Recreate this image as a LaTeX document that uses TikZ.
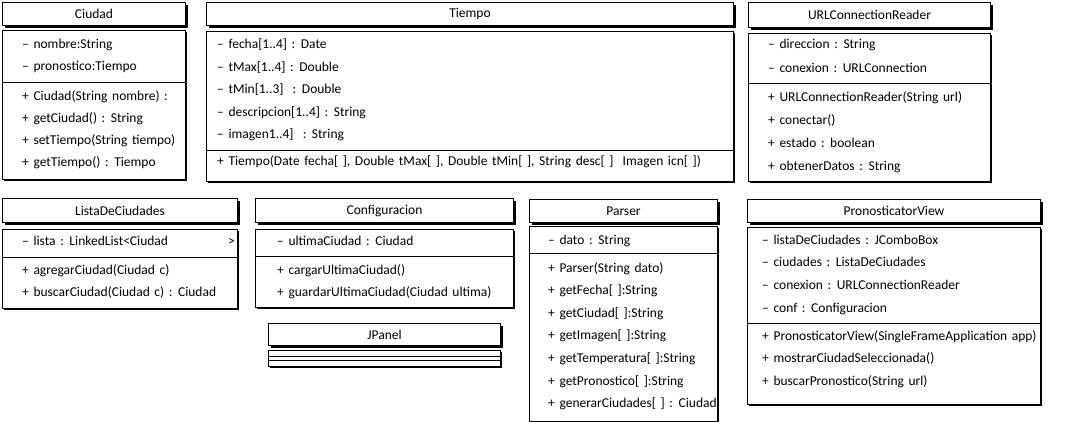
\documentclass[tikz,border=0pt]{standalone}
\usepackage{fontspec}
\setmainfont{Carlito}
\usetikzlibrary{positioning,shadows}

\begin{document}
\begin{tikzpicture}[x=1pt,y=-1pt,
clshead/.style={draw,line width=1pt,fill=white,anchor=north west,inner sep=0pt,
 minimum height=23pt,font=\fontsize{13.5}{16}\selectfont,
 drop shadow={shadow xshift=2.5pt,shadow yshift=-2.5pt,opacity=1,fill=black}},
clsbody/.style={draw,line width=1pt,fill=white,inner sep=0pt,
 drop shadow={shadow xshift=1.5pt,shadow yshift=-1.2pt,opacity=1,fill=black}},
member/.style={anchor=base west,inner sep=0pt,font=\fontsize{13.5}{16}\selectfont,
 execute at begin node=\spaceskip 4.6pt plus 1pt\relax},
sep/.style={line width=0.9pt}]
\useasboundingbox (0,0) rectangle (1092,422);
% first row
\node[clshead,minimum width=183pt] (ciudadH) at (2,2) {Ciudad};
\node[clsbody,minimum width=183pt,minimum height=149pt,below=4pt of ciudadH] (ciudadB) {};
\draw[sep] (ciudadB.west|-0,82) -- (ciudadB.east|-0,82);
\foreach \m [count=\i from 0] in {{– nombre:String},{– pronostico:Tiempo}}
  \node[member] (ciudadA\i) at (22,49+22*\i) {\m};
\foreach \m [count=\i from 0] in {{+ Ciudad(String nombre) :},{+ getCiudad() : String},
  {+ setTiempo(String tiempo)},{+ getTiempo() : Tiempo}}
  \node[member] (ciudadM\i) at (22,101+22*\i) {\m};

\node[clshead,minimum width=527pt] (tiempoH) at (206,2) {Tiempo};
\node[clsbody,minimum width=527pt,minimum height=150pt,below=5pt of tiempoH] (tiempoB) {};
\draw[sep] (tiempoB.west|-0,150) -- (tiempoB.east|-0,150);
\foreach \m [count=\i from 0] in {{– fecha[1..4] : Date},{– tMax[1..4] : Double},
  {– tMin[1..3]\ \ : Double},{– descripcion[1..4] : String},{– imagen1..4]\ \ : String}}
  \node[member] (tiempoA\i) at (217,49+22.5*\i) {\m};
\node[member] (tiempoM0) at (217,166)
  {+ Tiempo(Date fecha[ ], Double tMax[ ], Double tMin[ ], String desc[ ]\ \ Imagen icn[ ])};

\node[clshead,minimum width=242pt,minimum height=25pt] (urlH) at (748,2) {URLConnectionReader};
\node[clsbody,minimum width=242pt,minimum height=148pt,below=5pt of urlH] (urlB) {};
\draw[sep] (urlB.west|-0,83) -- (urlB.east|-0,83);
\foreach \m [count=\i from 0] in {{– direccion : String},{– conexion : URLConnection}}
  \node[member] (urlA\i) at (768,49+23.5*\i) {\m};
\foreach \m [count=\i from 0] in {{+ URLConnectionReader(String url)},{+ conectar()},
  {+ estado : boolean},{+ obtenerDatos : String}}
  \node[member] (urlM\i) at (768,102+22.7*\i) {\m};

% second row
\node[clshead,minimum width=235pt,minimum height=24pt] (listaH) at (2,198) {ListaDeCiudades};
\node[clsbody,minimum width=235pt,minimum height=79pt,below=6pt of listaH] (listaB) {};
\draw[sep] (listaB.west|-0,257) -- (listaB.east|-0,257);
\node[member] (listaA0) at (22,245) {– lista : LinkedList<Ciudad};
\node[member] (listaA1) at (228,245) {>};
\foreach \m [count=\i from 0] in {{+ agregarCiudad(Ciudad c)},{+ buscarCiudad(Ciudad c) : Ciudad}}
  \node[member] (listaM\i) at (22,274+22*\i) {\m};

\node[clshead,minimum width=258pt,minimum height=24pt] (confH) at (255,198) {Configuracion};
\node[clsbody,minimum width=258pt,minimum height=78pt,below=6pt of confH] (confB) {};
\draw[sep] (confB.west|-0,256) -- (confB.east|-0,256);
\node[member] (confA0) at (277,245) {– ultimaCiudad : Ciudad};
\foreach \m [count=\i from 0] in {{+ cargarUltimaCiudad()},{+ guardarUltimaCiudad(Ciudad ultima)}}
  \node[member] (confM\i) at (277,274+22*\i) {\m};

\node[clshead,minimum width=232pt,minimum height=22pt] (jpanelH) at (268,323) {JPanel};
\node[clsbody,minimum width=232pt,minimum height=16pt,below=4pt of jpanelH] (jpanelB) {};
\draw[sep] ([yshift=2pt]jpanelB.west) -- ([yshift=2pt]jpanelB.east);
\draw[sep] ([yshift=-2pt]jpanelB.west) -- ([yshift=-2pt]jpanelB.east);

\node[clshead,minimum width=188pt] (parserH) at (529,199) {Parser};
\node[clsbody,minimum width=188pt,minimum height=195pt,below=3pt of parserH] (parserB) {};
\draw[sep] (parserB.west|-0,253) -- (parserB.east|-0,253);
\node[member] (parserA0) at (548,244) {– dato : String};
\foreach \m [count=\i from 0] in {{+ Parser(String dato)},{+ getFecha[ ]:String},
  {+ getCiudad[ ]:String},{+ getImagen[ ]:String},{+ getTemperatura[ ]:String},
  {+ getPronostico[ ]:String},{+ generarCiudades[ ] : Ciudad}}
  \node[member] (parserM\i) at (548,272+22.6*\i) {\m};

\node[clshead,minimum width=293pt] (viewH) at (747,199) {PronosticatorView};
\node[clsbody,minimum width=293pt,minimum height=177pt,below=4pt of viewH] (viewB) {};
\draw[sep] (viewB.west|-0,323) -- (viewB.east|-0,323);
\foreach \m [count=\i from 0] in {{– listaDeCiudades : JComboBox},{– ciudades : ListaDeCiudades},
  {– conexion : URLConnectionReader},{– conf : Configuracion}}
  \node[member] (viewA\i) at (762,244+22.7*\i) {\m};
\foreach \m [count=\i from 0] in {{+ PronosticatorView(SingleFrameApplication app)},
  {+ mostrarCiudadSeleccionada()},{+ buscarPronostico(String url)}}
  \node[member] (viewM\i) at (762,340+22.5*\i) {\m};
\end{tikzpicture}
\end{document}
